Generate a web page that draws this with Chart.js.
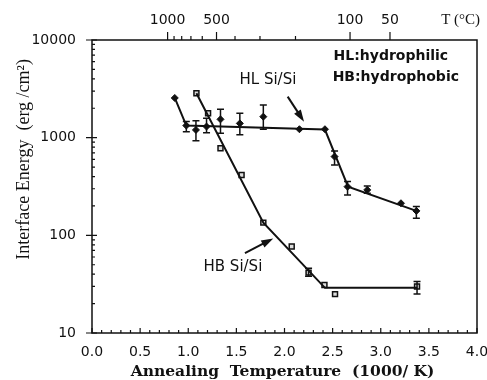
<!DOCTYPE html>
<html>
<head>
<meta charset="utf-8">
<script src="https://cdn.jsdelivr.net/npm/chart.js@4.4.0/dist/chart.umd.min.js"></script>
<style>
  html, body { margin: 0; padding: 0; background: #fff; }
</style>
</head>
<body>
<canvas id="chart" width="487" height="380"></canvas>
<script>
// hydrophilic (HL) measured points
const hlX = [0.86, 0.98, 1.08, 1.19, 1.335, 1.536, 1.78, 2.155, 2.42, 2.52, 2.655, 2.86, 3.21, 3.37];
const hlY = [2550, 1330, 1200, 1300, 1540, 1400, 1640, 1220, 1220, 640, 315, 292, 213, 178];
const hlLo = [null, 1150, 930, 1120, 1110, 1070, 1220, null, null, 525, 259, 270, null, 150];
const hlHi = [null, 1460, 1490, 1580, 1950, 1780, 2160, null, null, 731, 355, 320, null, 197];

// hydrophobic (HB) measured points
const hbX = [1.085, 1.206, 1.335, 1.554, 1.78, 2.075, 2.25, 2.415, 2.525, 3.377];
const hbY = [2850, 1780, 780, 415, 135, 77, 41.5, 31, 25, 30];
const hbLo = [null, null, null, null, null, null, 38, null, null, 25.1];
const hbHi = [null, null, null, null, null, null, 46, null, null, 33.6];

// hand-drawn fit lines (knots)
const hlFitX = [0.86, 0.98, 2.42, 2.66, 3.37];
const hlFitY = [2550, 1330, 1210, 315, 178];
const hbFitX = [1.085, 1.78, 2.42, 3.38];
const hbFitY = [2850, 135, 29, 29];

// axis ticks
const xTicks = [0, 0.5, 1, 1.5, 2, 2.5, 3, 3.5, 4];
const yTicks = [10, 100, 1000, 10000];
const tempMajor = [1000, 500, 100, 50];
const tempMinor = [900, 800, 700, 600, 400, 300, 200];

const pts = (xs, ys) => xs.map((x, i) => ({ x: x, y: ys[i] }));
const invT = (t) => 1000 / (t + 273);

const sansFont = "'DejaVu Sans', sans-serif";
const serifFont = "'Liberation Serif', 'DejaVu Serif', serif";

const extras = {
	id: "extras",
	afterDatasetsDraw(chart) {
		const ctx = chart.ctx;
		const sx = chart.scales.x;
		const sy = chart.scales.y;
		ctx.save();
		ctx.strokeStyle = "#111";
		ctx.lineWidth = 1.5;
		// error bars
		const bars = (xs, lo, hi) => {
			xs.forEach((x, i) => {
				if (lo[i] == null) return;
				const px = sx.getPixelForValue(x);
				const y1 = sy.getPixelForValue(lo[i]);
				const y2 = sy.getPixelForValue(hi[i]);
				ctx.beginPath();
				ctx.moveTo(px, y1); ctx.lineTo(px, y2);
				ctx.moveTo(px - 3.5, y1); ctx.lineTo(px + 3.5, y1);
				ctx.moveTo(px - 3.5, y2); ctx.lineTo(px + 3.5, y2);
				ctx.stroke();
			});
		};
		bars(hlX, hlLo, hlHi);
		bars(hbX, hbLo, hbHi);

		// arrows
		const arrow = (x0, y0, x1, y1) => {
			const ax = sx.getPixelForValue(x0), ay = sy.getPixelForValue(y0);
			const bx = sx.getPixelForValue(x1), by = sy.getPixelForValue(y1);
			const a = Math.atan2(by - ay, bx - ax);
			ctx.lineWidth = 2;
			ctx.beginPath();
			ctx.moveTo(ax, ay);
			ctx.lineTo(bx - 6 * Math.cos(a), by - 6 * Math.sin(a));
			ctx.stroke();
			ctx.beginPath();
			ctx.moveTo(bx, by);
			ctx.lineTo(bx - 12 * Math.cos(a) + 4 * Math.sin(a), by - 12 * Math.sin(a) - 4 * Math.cos(a));
			ctx.lineTo(bx - 12 * Math.cos(a) - 4 * Math.sin(a), by - 12 * Math.sin(a) + 4 * Math.cos(a));
			ctx.closePath();
			ctx.fillStyle = "#111";
			ctx.fill();
		};
		arrow(2.033, 2630, 2.203, 1458);
		arrow(1.589, 65.6, 1.883, 93);

		// labels
		ctx.fillStyle = "#111";
		ctx.textBaseline = "middle";
		ctx.font = "15px " + sansFont;
		ctx.textAlign = "center";
		ctx.fillText("HL Si/Si", sx.getPixelForValue(1.828), sy.getPixelForValue(3900));
		ctx.fillText("HB Si/Si", sx.getPixelForValue(1.464), sy.getPixelForValue(47.5));
		ctx.textAlign = "left";
		ctx.font = "bold 14px " + sansFont;
		ctx.fillText("HL:hydrophilic", sx.getPixelForValue(2.51), sy.getPixelForValue(6860));
		ctx.fillText("HB:hydrophobic", sx.getPixelForValue(2.5), sy.getPixelForValue(4180));
		ctx.restore();
	},
	afterDraw(chart) {
		const ctx = chart.ctx;
		const a = chart.chartArea;
		const sx = chart.scales.x;
		const sy = chart.scales.y;
		ctx.save();
		ctx.strokeStyle = "#111";
		ctx.lineWidth = 1.5;
		ctx.strokeRect(a.left, a.top, a.right - a.left, a.bottom - a.top);
		ctx.lineWidth = 1.2;
		ctx.beginPath();
		// bottom ticks, inward
		for (let i = 0; i <= 40; i++) {
			const px = sx.getPixelForValue(i / 10);
			const len = i % 5 === 0 ? 5 : 3;
			ctx.moveTo(px, a.bottom); ctx.lineTo(px, a.bottom - len);
		}
		// left ticks
		for (let d = 10; d < 10000; d *= 10) {
			for (let k = 2; k <= 9; k++) {
				const py = sy.getPixelForValue(d * k);
				ctx.moveTo(a.left, py); ctx.lineTo(a.left + 3, py);
			}
		}
		yTicks.forEach((v) => {
			const py = sy.getPixelForValue(v);
			ctx.moveTo(a.left - 6, py); ctx.lineTo(a.left + 5, py);
		});
		// top temperature ticks, outward
		tempMajor.forEach((t) => {
			const px = sx.getPixelForValue(invT(t));
			ctx.moveTo(px, a.top); ctx.lineTo(px, a.top - 8);
		});
		tempMinor.forEach((t) => {
			const px = sx.getPixelForValue(invT(t));
			ctx.moveTo(px, a.top); ctx.lineTo(px, a.top - 4);
		});
		ctx.stroke();

		// top axis labels
		ctx.fillStyle = "#111";
		ctx.font = "14px " + sansFont;
		ctx.textAlign = "center";
		ctx.textBaseline = "middle";
		tempMajor.forEach((t) => {
			ctx.fillText(String(t), sx.getPixelForValue(invT(t)), a.top - 20);
		});
		ctx.font = "15px " + serifFont;
		ctx.fillText("T (\u00B0C)", sx.getPixelForValue(3.83), a.top - 20);

		// x title
		ctx.font = "bold 15.5px 'DejaVu Serif', serif";
		ctx.fillText("Annealing  Temperature  (1000/ K)", (a.left + a.right) / 2 - 2, a.bottom + 39);

		// y title
		ctx.save();
		ctx.translate(24, sy.getPixelForValue(600));
		ctx.rotate(-Math.PI / 2);
		ctx.font = "18px " + serifFont;
		ctx.fillText("Interface Energy  (erg /cm\u00B2)", 0, 0);
		ctx.restore();
		ctx.restore();
	},
};

new Chart(document.getElementById("chart"), {
	type: "scatter",
	data: {
		datasets: [
			{
				type: "line",
				data: pts(hlFitX, hlFitY),
				borderColor: "#111",
				borderWidth: 2,
				pointRadius: 0,
				tension: 0,
			},
			{
				type: "line",
				data: pts(hbFitX, hbFitY),
				borderColor: "#111",
				borderWidth: 2,
				pointRadius: 0,
				tension: 0,
			},
			{
				data: pts(hlX, hlY),
				pointStyle: "rectRot",
				pointRadius: 3.5,
				backgroundColor: "#111",
				borderColor: "#111",
				borderWidth: 1,
			},
			{
				data: pts(hbX, hbY),
				pointStyle: "rect",
				pointRadius: 3.5,
				backgroundColor: "#ddd",
				borderColor: "#111",
				borderWidth: 1.5,
			},
		],
	},
	options: {
		responsive: false,
		animation: false,
		layout: { padding: { left: 0, right: 0, top: 0, bottom: 0 } },
		plugins: {
			legend: { display: false },
			tooltip: { enabled: false },
		},
		scales: {
			x: {
				type: "linear",
				min: 0,
				max: 4,
				grid: { display: false },
				border: { display: false },
				afterBuildTicks: (scale) => {
					scale.ticks = xTicks.map((v) => ({ value: v }));
				},
				afterFit: (scale) => {
					scale.height = 47;
					scale.paddingRight = 10;
					scale.paddingLeft = 0;
				},
				ticks: {
					padding: 3,
					color: "#111",
					font: { family: sansFont, size: 14 },
					callback: (v) => Number(v).toFixed(1),
				},
			},
			xTop: {
				type: "linear",
				position: "top",
				min: 0,
				max: 4,
				grid: { display: false },
				border: { display: false },
				ticks: { display: false },
				afterFit: (scale) => {
					scale.height = 40;
				},
			},
			y: {
				type: "logarithmic",
				min: 10,
				max: 10000,
				grid: { display: false },
				border: { display: false },
				afterBuildTicks: (scale) => {
					scale.ticks = yTicks.map((v) => ({ value: v }));
				},
				afterFit: (scale) => {
					scale.width = 92;
				},
				ticks: {
					padding: 8,
					color: "#111",
					font: { family: sansFont, size: 14 },
					callback: (v) => String(v),
				},
			},
		},
	},
	plugins: [extras],
});
</script>
</body>
</html>
